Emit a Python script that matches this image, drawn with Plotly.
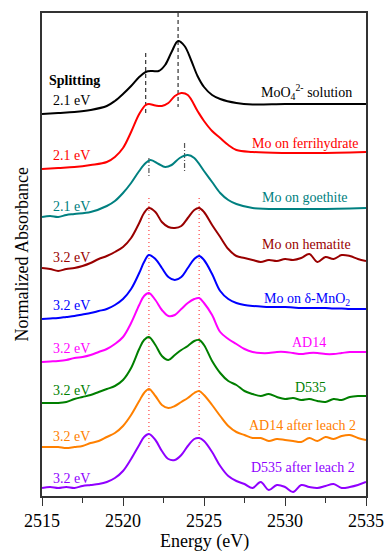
import plotly.graph_objects as go

# ---------------- data (energy in eV, stacked normalized absorbance) ----------------
E_moo4 = [2515, 2516, 2517, 2518, 2519, 2519.5, 2520, 2520.5, 2521, 2521.4, 2521.8, 2522.2, 2522.6,
          2523, 2523.4, 2523.8, 2524.2, 2524.6, 2525, 2525.5, 2526, 2527, 2528, 2530, 2532, 2535]
A_moo4 = [3.82, 3.83, 3.84, 3.86, 3.90, 3.95, 4.02, 4.10, 4.19, 4.24, 4.25, 4.25, 4.31,
          4.44, 4.55, 4.50, 4.36, 4.20, 4.09, 4.01, 3.97, 3.93, 3.915, 3.92, 3.92, 3.92]

E_fh = [2515, 2516, 2517, 2518, 2519, 2519.5, 2520, 2520.5, 2521, 2521.4, 2521.6, 2522, 2522.4,
        2522.8, 2523.2, 2523.6, 2524, 2524.6, 2525, 2525.5, 2526, 2526.5, 2527, 2528, 2530, 2532, 2535]
A_fh = [3.27, 3.28, 3.29, 3.31, 3.34, 3.39, 3.48, 3.64, 3.82, 3.91, 3.92, 3.905, 3.90,
        3.93, 4.00, 4.03, 4.01, 3.85, 3.75, 3.65, 3.58, 3.51, 3.46, 3.44, 3.43, 3.43, 3.44]

E_goe = [2515, 2515.5, 2516, 2516.5, 2517, 2518, 2519, 2519.5, 2520, 2520.5, 2521, 2521.4, 2521.7,
         2522.2, 2522.6, 2523, 2523.5, 2524, 2524.4, 2525, 2525.5, 2526, 2526.5, 2527, 2528, 2530, 2532, 2535]
A_goe = [2.79, 2.80, 2.79, 2.81, 2.82, 2.84, 2.90, 2.95, 3.03, 3.13, 3.25, 3.33, 3.36,
         3.32, 3.29, 3.31, 3.38, 3.41, 3.38, 3.25, 3.14, 3.03, 2.96, 2.92, 2.88, 2.87, 2.87, 2.88]

E_32 = [2515, 2515.5, 2516, 2516.5, 2517, 2517.5, 2518, 2518.5, 2519, 2519.5, 2520, 2520.5, 2521,
        2521.3, 2521.6, 2522, 2522.4, 2522.8, 2523.2, 2523.6, 2524, 2524.4, 2524.7, 2525, 2525.5,
        2526, 2526.5, 2527, 2527.5, 2528, 2528.5, 2529, 2529.5, 2530, 2530.5, 2531, 2531.5, 2532,
        2532.5, 2533, 2533.5, 2534, 2534.5, 2535]
A_hem = [2.28, 2.27, 2.25, 2.27, 2.28, 2.30, 2.33, 2.37, 2.40, 2.44, 2.49, 2.58, 2.73,
         2.83, 2.88, 2.84, 2.74, 2.69, 2.68, 2.70, 2.78, 2.86, 2.88, 2.84, 2.71,
         2.59, 2.47, 2.40, 2.38, 2.36, 2.34, 2.36, 2.35, 2.37, 2.36, 2.38, 2.42, 2.34,
         2.39, 2.37, 2.41, 2.40, 2.37, 2.35]
A_mno2 = [1.77, 1.775, 1.78, 1.79, 1.80, 1.815, 1.83, 1.85, 1.87, 1.91, 1.97, 2.07, 2.23,
          2.34, 2.41, 2.37, 2.28, 2.19, 2.16, 2.19, 2.28, 2.37, 2.40, 2.36, 2.22,
          2.05, 1.97, 1.93, 1.91, 1.90, 1.895, 1.89, 1.89, 1.89, 1.885, 1.88, 1.88, 1.88,
          1.88, 1.875, 1.875, 1.87, 1.87, 1.87]
A_ad14 = [1.34, 1.345, 1.35, 1.36, 1.38, 1.39, 1.41, 1.44, 1.47, 1.52, 1.59, 1.73, 1.91,
          2.00, 2.03, 1.96, 1.86, 1.80, 1.81, 1.87, 1.93, 1.97, 1.98, 1.93, 1.81,
          1.64, 1.57, 1.52, 1.47, 1.44, 1.43, 1.43, 1.44, 1.44, 1.43, 1.42, 1.43, 1.43,
          1.42, 1.42, 1.43, 1.44, 1.44, 1.44]
A_d535 = [0.93, 0.93, 0.93, 0.94, 0.97, 0.99, 1.01, 1.04, 1.07, 1.10, 1.16, 1.28, 1.47,
          1.56, 1.59, 1.51, 1.40, 1.36, 1.41, 1.46, 1.50, 1.55, 1.56, 1.51, 1.35,
          1.23, 1.15, 1.11, 1.05, 1.02, 1.00, 1.02, 0.99, 0.97, 0.98, 0.96, 0.97, 0.95,
          0.94, 0.97, 0.96, 0.99, 1.00, 1.00]
A_ad14l = [0.49, 0.49, 0.49, 0.48, 0.49, 0.50, 0.53, 0.55, 0.59, 0.63, 0.70, 0.81, 0.95,
           1.03, 1.07, 1.00, 0.91, 0.88, 0.90, 0.94, 0.98, 1.03, 1.05, 1.01, 0.91,
           0.80, 0.70, 0.64, 0.61, 0.58, 0.58, 0.55, 0.57, 0.56, 0.55, 0.54, 0.58, 0.55,
           0.59, 0.57, 0.60, 0.61, 0.58, 0.56]
A_d535l = [0.08, 0.09, 0.08, 0.09, 0.08, 0.10, 0.11, 0.12, 0.14, 0.18, 0.25, 0.37, 0.51,
           0.59, 0.62, 0.56, 0.45, 0.37, 0.36, 0.41, 0.50, 0.57, 0.58, 0.55, 0.44,
           0.30, 0.20, 0.15, 0.12, 0.08, 0.14, 0.06, 0.11, 0.09, 0.04, 0.11, 0.09, 0.08,
           0.10, 0.12, 0.08, 0.09, 0.11, 0.14]

names = ["MoO<sub>4</sub><sup>2-</sup> solution", "Mo on ferrihydrate", "Mo on goethite",
         "Mo on hematite", "Mo on δ-MnO<sub>2</sub>", "AD14", "D535",
         "AD14 after leach 2", "D535 after leach 2"]
splitting = ["2.1 eV", "2.1 eV", "2.1 eV", "3.2 eV", "3.2 eV", "3.2 eV", "3.2 eV", "3.2 eV", "3.2 eV"]
colors = ["#000000", "#FF0000", "#008080", "#990000", "#0000FF", "#FF00FF", "#007F00", "#FF8000", "#9000FF"]

series = [(E_moo4, A_moo4), (E_fh, A_fh), (E_goe, A_goe), (E_32, A_hem), (E_32, A_mno2),
          (E_32, A_ad14), (E_32, A_d535), (E_32, A_ad14l), (E_32, A_d535l)]

# peak marker lines (energy, y from, y to)
moo4_peaks = [(2521.4, 4.43, 3.81), (2523.4, 4.83, 3.89)]
goe_peaks = [(2521.6, 3.38, 3.18), (2523.8, 3.53, 3.24)]
mn_peaks = [(2521.6, 2.98, 0.46), (2524.7, 2.98, 0.46)]

# label placement (style): name label right x, name y, split label y
name_pos = [(2534.26, 4.04), (2534.69, 3.53), (2534.01, 2.99), (2534.2, 2.52), (2534.14, 1.97),
            (2532.65, 1.54), (2532.65, 1.09), (2534.5, 0.71), (2534.44, 0.29)]
split_y = [3.96, 3.41, 2.90, 2.39, 1.91, 1.48, 1.06, 0.60, 0.18]

FONT = "Liberation Serif"

fig = go.Figure()

for (x0, y0, y1) in moo4_peaks:
    fig.add_trace(go.Scatter(x=[x0, x0], y=[y0, y1], mode="lines",
                             line=dict(color="#333333", width=1.2, dash="4px,3px"),
                             showlegend=False, hoverinfo="skip"))
for (x0, y0, y1) in goe_peaks:
    fig.add_trace(go.Scatter(x=[x0, x0], y=[y0, y1], mode="lines",
                             line=dict(color="#555555", width=1.2, dash="5px,2px,1px,2px"),
                             showlegend=False, hoverinfo="skip"))
for (x0, y0, y1) in mn_peaks:
    fig.add_trace(go.Scatter(x=[x0, x0], y=[y0, y1], mode="lines",
                             line=dict(color="#FF4040", width=1.2, dash="1px,3px"),
                             showlegend=False, hoverinfo="skip"))

for (ex, ay), c in zip(series, colors):
    fig.add_trace(go.Scatter(x=ex, y=ay, mode="lines",
                             line=dict(color=c, width=2, shape="spline", smoothing=1.0),
                             showlegend=False))

for i in range(len(names)):
    fig.add_annotation(x=name_pos[i][0], y=name_pos[i][1], text=names[i], showarrow=False,
                       xanchor="right", yanchor="middle",
                       font=dict(family=FONT, size=14, color=colors[i]))
    fig.add_annotation(x=2515.56, y=split_y[i], text=splitting[i], showarrow=False,
                       xanchor="left", yanchor="middle",
                       font=dict(family=FONT, size=14, color=colors[i]))

fig.add_annotation(x=2515.3, y=4.16, text="<b>Splitting</b>", showarrow=False,
                   xanchor="left", yanchor="middle", font=dict(family=FONT, size=14, color="black"))

fig.add_annotation(xref="paper", yref="paper", x=-0.062, y=0.5, text="Normalized Absorbance",
                   textangle=-90, showarrow=False, xanchor="center", yanchor="middle",
                   font=dict(family=FONT, size=18, color="black"))
fig.add_annotation(xref="paper", yref="paper", x=0.5, y=-0.095, text="Energy (eV)",
                   showarrow=False, xanchor="center", yanchor="middle",
                   font=dict(family=FONT, size=18, color="black"))

fig.update_layout(
    width=385, height=551,
    margin=dict(l=42, r=19, t=13, b=55, autoexpand=False),
    paper_bgcolor="white", plot_bgcolor="white",
    font=dict(family=FONT, color="black"),
    xaxis=dict(range=[2515, 2535], tickvals=[2515, 2520, 2525, 2530, 2535], automargin=False,
               ticks="outside", ticklen=8, tickwidth=1.2, tickcolor="#333",
               minor=dict(dtick=2.5, tick0=2515, ticks="outside", ticklen=5, tickwidth=1.2, tickcolor="#333"),
               showline=True, linecolor="#333", linewidth=1.5, mirror=True,
               showgrid=False, zeroline=False,
               tickfont=dict(family=FONT, size=18)),
    yaxis=dict(range=[0, 4.83], showticklabels=False, ticks="", automargin=False,
               showline=True, linecolor="#333", linewidth=1.5, mirror=True,
               showgrid=False, zeroline=False),
)

fig.write_html("out.html")
